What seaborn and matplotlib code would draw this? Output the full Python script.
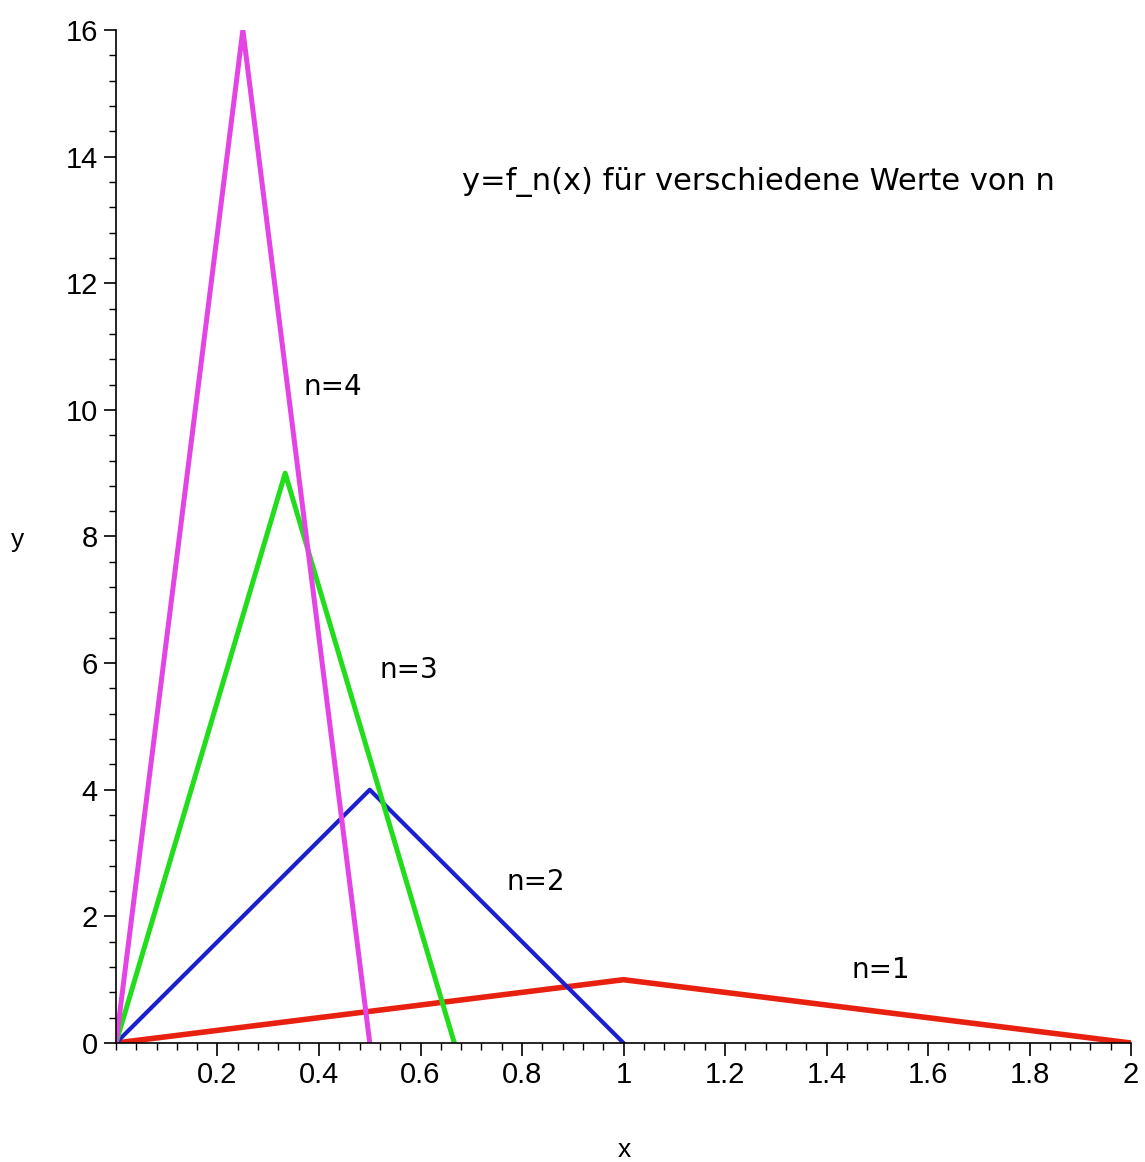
import matplotlib
matplotlib.use("Agg")
import matplotlib.pyplot as plt
from matplotlib.ticker import MultipleLocator
import pandas as pd
import seaborn as sns

# f_n(x): triangle with peak n^2 at x=1/n, zero at x=2/n
n_values = [1, 2, 3, 4]
x_points = [
    [0, 1, 2],
    [0, 0.5, 1],
    [0, 1 / 3, 2 / 3],
    [0, 0.25, 0.5],
]
y_points = [
    [0, 1, 0],
    [0, 4, 0],
    [0, 9, 0],
    [0, 16, 0],
]
line_colors = ["#e8200f", "#1b1fd0", "#22dd1c", "#e444e4"]
line_widths = [4.0, 3.0, 3.6, 3.6]
label_text = ["n=1", "n=2", "n=3", "n=4"]
label_x = [1.45, 0.77, 0.52, 0.37]
label_y = [1.15, 2.54, 5.89, 10.36]
title_text = "y=f_n(x) für verschiedene Werte von n"

rows = []
for n, xs, ys in zip(n_values, x_points, y_points):
    for i, (xv, yv) in enumerate(zip(xs, ys)):
        rows.append({"n": f"n={n}", "x": xv, "y": yv, "order": i})
df = pd.DataFrame(rows)

sns.set_theme(style="white")
tick_font = ["Liberation Sans", "DejaVu Sans"]
text_font = ["DejaVu Sans"]

fig = plt.figure(figsize=(11.45, 11.62), dpi=100)
ax = fig.add_axes([0.1013, 0.1024, 0.8865, 0.8718])

for name, color, lw in zip(label_text, line_colors, line_widths):
    sub = df[df["n"] == name]
    sns.lineplot(data=sub, x="x", y="y", sort=False, estimator=None,
                 color=color, linewidth=lw, ax=ax, legend=False)

ax.set_xlim(0, 2)
ax.set_ylim(0, 16)
ax.xaxis.set_major_locator(MultipleLocator(0.2))
ax.xaxis.set_minor_locator(MultipleLocator(0.04))
ax.yaxis.set_major_locator(MultipleLocator(2))
ax.yaxis.set_minor_locator(MultipleLocator(0.4))
ax.tick_params(which="major", direction="out", length=9, width=1.2, color="black",
               left=True, bottom=True, pad=4, labelcolor="black")
ax.tick_params(which="minor", direction="out", length=5, width=1.0, color="black",
               left=True, bottom=True)
for side in ["top", "right"]:
    ax.spines[side].set_visible(False)
for side in ["left", "bottom"]:
    ax.spines[side].set_color("black")
    ax.spines[side].set_linewidth(1.2)

xt = [0.2 * i for i in range(1, 11)]
ax.set_xticks(xt)
ax.set_xticklabels([("%g" % round(v, 1)) for v in xt], family=tick_font, fontsize=21)
yt = list(range(0, 17, 2))
ax.set_yticks(yt)
ax.set_yticklabels([str(v) for v in yt], family=tick_font, fontsize=21)

ax.set_xlabel("x", family=tick_font, fontsize=19, color="black", va="center")
ax.set_ylabel("y", family=tick_font, fontsize=19, color="black", rotation=0,
              va="center", ha="center")
ax.xaxis.set_label_coords(0.501, -0.106)
ax.yaxis.set_label_coords(-0.0966, 0.4965)

for t, lx, ly in zip(label_text, label_x, label_y):
    ax.text(lx, ly, t, family=text_font, fontsize=20, va="center", ha="left",
            color="black")
ax.text(0.682, 13.6, title_text, family=text_font, fontsize=22, va="center",
        ha="left", color="black")

fig.savefig("out.png", dpi=100)
